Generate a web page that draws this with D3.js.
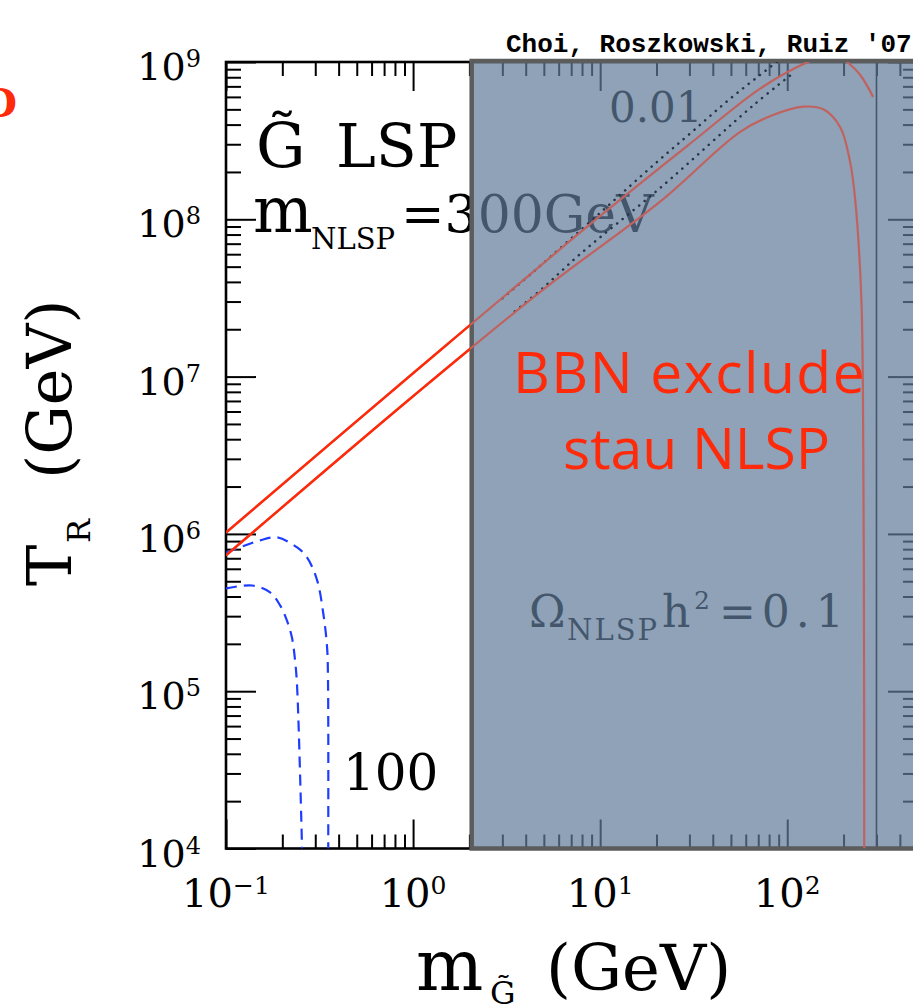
<!DOCTYPE html>
<html>
<head>
<meta charset="utf-8">
<script src="https://cdn.jsdelivr.net/npm/d3@7"></script>
<style>
  html,body{margin:0;padding:0;background:#fff;}
  svg{display:block;}
  .serif{font-family:"DejaVu Serif",serif;}
</style>
</head>
<body>
<svg id="chart" width="913" height="1004"></svg>
<script>
// ---------------- data ----------------
const xDomain = [0.1, 500];          // gravitino mass (GeV)
const yDomain = [1e4, 1e9];          // reheating temperature (GeV)
const xMajorTicks = [0.1, 1, 10, 100];
const xTickExponents = ["\u22121", "0", "1", "2"];
const yMajorTicks = [1e4, 1e5, 1e6, 1e7, 1e8, 1e9];
const yTickExponents = ["4", "5", "6", "7", "8", "9"];
const bbnMinMass = 2.07;             // left edge of BBN-excluded region
const nlspMass = 300;                // m_G = m_NLSP line

// red solid contours (m, T_R)
const redUpper = [[0.1,1.02e6],[1,1.05e7],[10,1.05e8],[31,3.1e8],[72,6.8e8],[129,1.0e9],[165,1.1e9],[190,1.08e9],[209,1.0e9],[245,8.3e8],[288,6.0e8]];
const redLower = [[0.1,7.3e5],[1,7.5e6],[5,3.6e7],[21,1.3e8],[56,3.6e8],[84,4.6e8],[122,5.2e8],[156,5.0e8],[192,3.85e8],[217,2.3e8],[231,1.32e8],[249,3.1e7],[255,3.4e6],[257.5,1e5],[258,1e4]];
// dotted contours
const dottedUpper = [[3,3.15e7],[4.5,4.75e7],[10,1.1e8],[20,2.3e8],[31,3.6e8],[50,5.9e8],[88,1.0e9]];
const dottedLower = [[3.5,2.6e7],[5,3.7e7],[7.8,6.0e7],[20.9,1.58e8],[65.8,5.3e8],[105,8.3e8]];
// blue dashed contours
const blueUpper = [[0.1,7.6e5],[0.152,9.1e5],[0.1875,9.5e5],[0.24,8.2e5],[0.271,7.1e5],[0.307,5.07e5],[0.331,3.13e5],[0.347,1.9e5],[0.351,1.17e5],[0.352,1e4]];
const blueLower = [[0.1,4.5e5],[0.138,4.7e5],[0.172,4.25e5],[0.195,3.5e5],[0.212,2.8e5],[0.225,2.2e5],[0.234,1.57e5],[0.240,1.06e5],[0.255,1e4]];

// ---------------- chart ----------------
const svg = d3.select("#chart");
const x = d3.scaleLog().domain(xDomain).range([226, 918]);
const y = d3.scaleLog().domain(yDomain).range([848.5, 62]);
const [x0, x1] = x.range();
const [yb, yt] = y.range();

const RED = "#ff2a0a", RED_DIM = "#c0625f", BLUE = "#1f3dff";

const defs = svg.append("defs");
defs.append("clipPath").attr("id","plotClip")
  .append("rect").attr("x",x0).attr("y",yt).attr("width",x1-x0).attr("height",yb-yt);
defs.append("clipPath").attr("id","whiteClip")
  .append("rect").attr("x",x0).attr("y",yt).attr("width",x(bbnMinMass)-x0-2).attr("height",yb-yt);

const isMajor = v => Math.abs(Math.log10(v) - Math.round(Math.log10(v))) < 1e-9;
const xMinor = x.ticks().filter(v => !isMajor(v));
const yMinor = y.ticks().filter(v => !isMajor(v));

function styleAxis(g){
  g.select(".domain").remove();
  g.selectAll(".tick line").attr("stroke","#000").attr("stroke-width",2);
  g.selectAll(".tick text").remove();
}
const axes = svg.append("g");
axes.append("g").attr("transform",`translate(0,${yb})`).call(d3.axisBottom(x).tickValues(xMinor).tickSize(-14).tickSizeOuter(0)).call(styleAxis);
axes.append("g").attr("transform",`translate(0,${yb})`).call(d3.axisBottom(x).tickValues(xMajorTicks).tickSize(-29).tickSizeOuter(0)).call(styleAxis);
axes.append("g").attr("transform",`translate(0,${yt})`).call(d3.axisTop(x).tickValues(xMinor).tickSize(-14).tickSizeOuter(0)).call(styleAxis);
axes.append("g").attr("transform",`translate(0,${yt})`).call(d3.axisTop(x).tickValues(xMajorTicks).tickSize(-29).tickSizeOuter(0)).call(styleAxis);
axes.append("g").attr("transform",`translate(${x0},0)`).call(d3.axisLeft(y).tickValues(yMinor).tickSize(-15).tickSizeOuter(0)).call(styleAxis);
axes.append("g").attr("transform",`translate(${x0},0)`).call(d3.axisLeft(y).tickValues(yMajorTicks).tickSize(-30).tickSizeOuter(0)).call(styleAxis);
axes.append("g").attr("transform",`translate(${x1},0)`).call(d3.axisRight(y).tickValues(yMinor).tickSize(-15).tickSizeOuter(0)).call(styleAxis);
axes.append("g").attr("transform",`translate(${x1},0)`).call(d3.axisRight(y).tickValues(yMajorTicks).tickSize(-30).tickSizeOuter(0)).call(styleAxis);
axes.append("rect").attr("x",x0).attr("y",yt).attr("width",x1-x0).attr("height",yb-yt)
  .attr("fill","none").attr("stroke","#000").attr("stroke-width",2.6);

// tick labels
xMajorTicks.forEach((v,i)=>{
  const t = svg.append("text").attr("class","serif").attr("x",x(v)).attr("y",907)
    .attr("text-anchor","middle").attr("font-size",40).attr("fill","#000");
  t.append("tspan").text("10");
  t.append("tspan").attr("font-size",25).attr("dy",-13).text(xTickExponents[i]);
});
yMajorTicks.forEach((v,i)=>{
  const t = svg.append("text").attr("class","serif").attr("x",201).attr("y",y(v)+18)
    .attr("text-anchor","end").attr("font-size",38).attr("fill","#000");
  t.append("tspan").text("10");
  t.append("tspan").attr("font-size",24).attr("dy",-13).text(yTickExponents[i]);
});

// in-plot labels (under the overlay)
const lab = svg.append("g").attr("class","serif").attr("fill","#000");
lab.append("text").attr("x",256).attr("y",167).attr("font-size",62).text("G\u0303");
lab.append("text").attr("x",336).attr("y",167).attr("font-size",60).text("LSP");
lab.append("text").attr("x",253).attr("y",232).attr("font-size",63).text("m");
lab.append("text").attr("x",311).attr("y",249).attr("font-size",29).text("NLSP");
lab.append("text").attr("x",401).attr("y",232).attr("font-size",52).text("=300GeV");
lab.append("text").attr("x",609).attr("y",122).attr("font-size",42).text("0.01");
lab.append("text").attr("x",343).attr("y",790).attr("font-size",50).text("100");
const om = lab.append("text").attr("y",627).attr("font-size",44);
om.append("tspan").attr("x",529).text("\u03A9");
om.append("tspan").attr("x",567).attr("y",640).attr("font-size",29).attr("letter-spacing",2).text("NLSP");
om.append("tspan").attr("x",662).attr("y",627).text("h");
om.append("tspan").attr("x",694).attr("y",609).attr("font-size",25).text("2");
om.append("tspan").attr("x",719).attr("y",627).attr("letter-spacing",6).text("=0.1");

const line = d3.line().x(d=>x(d[0])).y(d=>y(d[1])).curve(d3.curveCatmullRom.alpha(0.5));
const plot = svg.append("g").attr("clip-path","url(#plotClip)");

[blueUpper, blueLower].forEach(s=>{
  plot.append("path").attr("d",line(s)).attr("fill","none").attr("stroke",BLUE)
    .attr("stroke-width",2.2).attr("stroke-dasharray","11,7");
});
plot.append("line").attr("x1",x(nlspMass)).attr("x2",x(nlspMass)).attr("y1",yt).attr("y2",yb)
  .attr("stroke","#000").attr("stroke-width",1.6);

// BBN overlay
svg.append("rect").attr("x",x(bbnMinMass)-0.5).attr("y",yt-1).attr("width",x1-x(bbnMinMass)+40).attr("height",yb-yt+1)
  .attr("fill","rgb(96,122,152)").attr("fill-opacity",0.7)
  .attr("stroke","#5c5c5c").attr("stroke-width",4.5);

const over = svg.append("g").attr("clip-path","url(#plotClip)");
[dottedUpper, dottedLower].forEach(s=>{
  over.append("path").attr("d",line(s)).attr("fill","none").attr("stroke","#263446")
    .attr("stroke-width",2.5).attr("stroke-linecap","round").attr("stroke-dasharray","0.1,7");
});
[redUpper, redLower].forEach(s=>{
  over.append("path").attr("d",line(s)).attr("fill","none").attr("stroke",RED_DIM).attr("stroke-width",2.2);
});
const bright = svg.append("g").attr("clip-path","url(#whiteClip)");
[redUpper, redLower].forEach(s=>{
  bright.append("path").attr("d",line(s)).attr("fill","none").attr("stroke",RED).attr("stroke-width",2.4);
});

const bbn = svg.append("g").attr("font-family","'Open Sans',sans-serif").attr("fill",RED).attr("font-size",57);
bbn.append("text").attr("x",513).attr("y",393).attr("letter-spacing",1.5).text("BBN exclude");
bbn.append("text").attr("x",563).attr("y",469).text("stau NLSP");

svg.append("text").attr("x",506).attr("y",52).attr("font-family","'Liberation Mono','Courier New',monospace")
  .attr("font-weight","bold").attr("font-size",26).attr("fill","#000").text("Choi, Roszkowski, Ruiz '07");

svg.append("text").attr("x",17).attr("y",117).attr("text-anchor","end").attr("class","serif")
  .attr("font-weight","bold").attr("font-size",40).attr("fill",RED).text("D");

const ytl = svg.append("text").attr("class","serif").attr("transform","rotate(-90)").attr("fill","#000");
ytl.append("tspan").attr("x",-586).attr("y",71).attr("font-size",62).text("T");
ytl.append("tspan").attr("x",-543).attr("y",90).attr("font-size",32).text("R");
ytl.append("tspan").attr("x",-479).attr("y",71).attr("font-size",62).text("(GeV)");

const xtl = svg.append("text").attr("class","serif").attr("fill","#000");
xtl.append("tspan").attr("x",416).attr("y",990).attr("font-size",71).text("m");
xtl.append("tspan").attr("x",490).attr("y",1004).attr("font-size",32).text("G\u0303");
xtl.append("tspan").attr("x",546).attr("y",990).attr("font-size",64).text("(GeV)");
</script>
</body>
</html>
